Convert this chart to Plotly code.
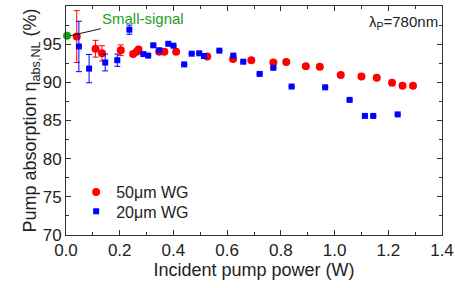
import plotly.graph_objects as go

# 50um WG (red circles)
x50 = [0.04, 0.11, 0.134, 0.204, 0.25, 0.263, 0.27, 0.347, 0.366, 0.41, 0.526,
       0.622, 0.69, 0.772, 0.82, 0.893, 0.945, 1.023, 1.10, 1.157, 1.214, 1.253, 1.292]
y50 = [96.0, 94.4, 93.8, 94.2, 93.7, 94.0, 94.3, 94.0, 94.0, 94.0, 93.4,
       93.05, 92.9, 92.6, 92.65, 92.1, 92.05, 90.95, 90.75, 90.6, 89.95, 89.55, 89.55]
e50 = [3.4, 1.1, 1.0, 0.7, 0, 0, 0, 0, 0, 0, 0,
       0, 0, 0, 0, 0, 0, 0, 0, 0, 0, 0, 0]

# 20um WG (blue squares)
x20 = [0.048, 0.086, 0.146, 0.191, 0.236, 0.288, 0.306, 0.325, 0.347, 0.381, 0.40,
       0.44, 0.468, 0.496, 0.514, 0.571, 0.623, 0.66, 0.721, 0.772, 0.84, 0.965,
       1.056, 1.113, 1.144, 1.235]
y20 = [94.7, 91.8, 92.6, 92.9, 96.9, 93.7, 93.5, 94.85, 94.2, 95.05, 94.8,
       92.35, 93.75, 93.8, 93.45, 94.15, 93.5, 92.7, 91.1, 91.9, 89.45, 89.35,
       87.7, 85.6, 85.6, 85.8]
e20 = [3.3, 1.85, 1.1, 0.8, 0.6, 0, 0, 0, 0, 0, 0,
       0, 0, 0, 0, 0, 0, 0, 0, 0, 0, 0,
       0, 0, 0, 0]

# small-signal point
xs = [0.004]
ys = [96.1]

FONT = "Liberation Sans, Arial, sans-serif"

fig = go.Figure()
fig.add_trace(go.Scatter(
    x=x50, y=y50, mode="markers", name="50\u03bcm WG", legend="legend",
    marker=dict(color="#ff0000", size=8, symbol="circle"),
    error_y=dict(type="data", array=e50, color="#ff0000", thickness=1, width=3),
))
fig.add_trace(go.Scatter(
    x=x20, y=y20, mode="markers", name="20\u03bcm WG", legend="legend2",
    marker=dict(color="#0000ff", size=6, symbol="square"),
    error_y=dict(type="data", array=e20, color="#0000ff", thickness=1, width=3),
))
fig.add_trace(go.Scatter(
    x=xs, y=ys, mode="markers", showlegend=False,
    marker=dict(color="#1a9e1a", size=8, symbol="circle"),
    cliponaxis=False,
))

fig.add_annotation(
    x=xs[0] + 0.012, y=ys[0], xref="x", yref="y",
    text="Small-signal", showarrow=True, arrowhead=0, arrowwidth=1,
    arrowcolor="#111111", ax=73, ay=-17,
    font=dict(family=FONT, size=15, color="#1a9e1a"),
)
fig.add_annotation(
    x=1, y=0.926, xref="paper", yref="paper", xanchor="right", yanchor="middle",
    xshift=-2, showarrow=False,
    text="\u03bb<sub>P</sub>=780nm",
    font=dict(family=FONT, size=15, color="#222222"),
)

axis_common = dict(
    showline=True, linecolor="#333333", linewidth=1, mirror="ticks",
    ticks="inside", ticklen=5, tickcolor="#333333", showgrid=False, zeroline=False,
    tickfont=dict(family=FONT, size=17, color="#222222"), automargin=False,
)

fig.update_xaxes(
    range=[0, 1.4], dtick=0.2, tickformat=".1f",
    minor=dict(dtick=0.1, ticks="inside", ticklen=3, tickcolor="#333333"),
    title=dict(text="Incident pump power (W)", font=dict(family=FONT, size=18, color="#222222"), standoff=3),
    **axis_common,
)
fig.update_yaxes(
    range=[70, 100], dtick=5,
    minor=dict(dtick=2.5, ticks="inside", ticklen=3, tickcolor="#333333"),
    title=dict(text="Pump absorption \u03b7<sub>abs,NL</sub> (%)", font=dict(family=FONT, size=18, color="#222222"), standoff=0),
    **axis_common,
)

leg_common = dict(xanchor="left", yanchor="top", bgcolor="rgba(0,0,0,0)",
                  font=dict(family=FONT, size=16, color="#222222"), itemwidth=30)

fig.update_layout(
    width=455, height=288,
    margin=dict(l=66, r=13, t=6, b=53),
    paper_bgcolor="white", plot_bgcolor="white",
    legend=dict(x=0.027, y=0.262, **leg_common),
    legend2=dict(x=0.027, y=0.177, **leg_common),
    font=dict(family=FONT),
)

fig.write_html("out.html", config={"displayModeBar": False},
               post_script="document.body.style.margin='0px';")
